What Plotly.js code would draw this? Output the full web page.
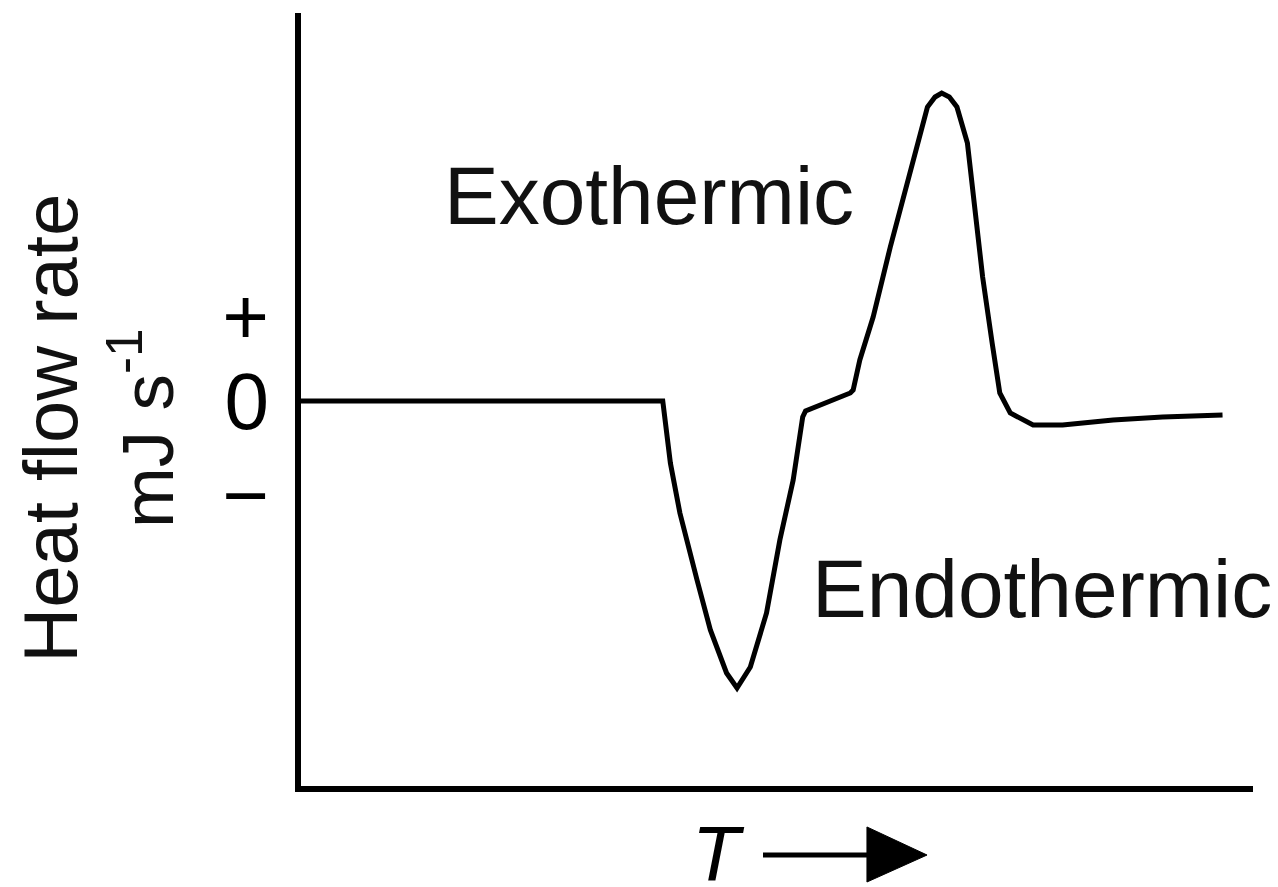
<!DOCTYPE html>
<html>
<head>
<meta charset="utf-8">
<script src="https://cdn.plot.ly/plotly-3.0.1.min.js"></script>
<style>html,body{margin:0;padding:0;background:#fff;}#chart{width:1278px;height:887px;}</style>
</head>
<body>
<div id="chart"></div>
<script>
// Temperature (arbitrary units, increasing to the right)
const temperature = [0, 38.0, 38.8, 39.8, 41.6, 43.0, 44.7, 45.8, 47.2, 48.9, 50.3, 51.7, 52.7, 53.0,
  57.7, 58.0, 58.7, 60.1, 61.9, 63.2, 64.7, 65.8, 66.6, 67.3, 68.1, 68.9, 70.0, 70.8, 71.6, 72.6,
  73.4, 74.5, 76.9, 80.0, 85.3, 90.5, 96.8];
// Heat flow rate (arbitrary units; + exothermic, - endothermic)
const heatFlow = [0, 0, -6.2, -11.2, -17.9, -22.9, -27.2, -28.7, -26.6, -21.2, -13.9, -7.9, -1.6, -1.0,
  0.8, 1.1, 4.1, 8.4, 15.4, 20.1, 25.8, 29.4, 30.4, 30.8, 30.4, 29.4, 25.8, 19.1, 12.4, 5.8,
  0.8, -1.2, -2.4, -2.4, -1.9, -1.6, -1.4];

const yTickVals = [-9.4, 0, 8.5];
const yTickText = ["\u2212", "0", "+"];

const FONT = "Liberation Sans, Arial, sans-serif";

const trace = {
  x: temperature, y: heatFlow, type: "scatter", mode: "lines",
  line: {color: "#000", width: 5}, hoverinfo: "skip"
};

const layout = {
  width: 1278, height: 887,
  margin: {l: 301, r: 25, t: 13, b: 101},
  paper_bgcolor: "#fff", plot_bgcolor: "#fff",
  showlegend: false,
  xaxis: {range: [0, 100], showline: true, linewidth: 6, linecolor: "#000",
    showgrid: false, zeroline: false, showticklabels: false, ticks: ""},
  yaxis: {range: [-38.5, 38.8], showline: true, linewidth: 6, linecolor: "#000",
    showgrid: false, zeroline: false, ticks: "",
    tickvals: yTickVals, ticktext: yTickText, ticklabelstandoff: 10,
    tickfont: {family: FONT, size: 80, color: "#000"}},
  annotations: [
    {text: "Exothermic", xref: "x", yref: "y", x: 14.8, y: 20.6, xanchor: "left", yanchor: "middle",
      showarrow: false, font: {family: FONT, size: 82, color: "#111"}},
    {text: "Endothermic", xref: "x", yref: "y", x: 53.5, y: -18.7, xanchor: "left", yanchor: "middle",
      showarrow: false, font: {family: FONT, size: 82, color: "#111"}},
    {text: "Heat flow rate", xref: "paper", yref: "y", x: -0.264, y: -2.7, xanchor: "center", yanchor: "middle",
      textangle: -90, showarrow: false, font: {family: FONT, size: 76, color: "#111"}},
    {text: "mJ s<sup>-1</sup>", xref: "paper", yref: "y", x: -0.167, y: -2.7, xanchor: "center", yanchor: "middle",
      textangle: -90, showarrow: false, font: {family: FONT, size: 73, color: "#111"}},
    {text: "<i>T</i>", xref: "paper", yref: "paper", x: 0.4086, y: -0.088, xanchor: "left", yanchor: "middle",
      showarrow: false, font: {family: FONT, size: 78, color: "#000"}}
  ],
  shapes: [
    {type: "line", xref: "paper", yref: "paper", x0: 0.4853, x1: 0.5956, y0: -0.0893, y1: -0.0893,
      line: {color: "#000", width: 5}},
    {type: "path", xref: "paper", yref: "paper",
      path: "M 0.5945 -0.0530 L 0.6576 -0.0893 L 0.5945 -0.1242 Z",
      fillcolor: "#000", line: {color: "#000", width: 1}}
  ]
};

Plotly.newPlot("chart", [trace], layout, {displayModeBar: false, staticPlot: true});
</script>
</body>
</html>
